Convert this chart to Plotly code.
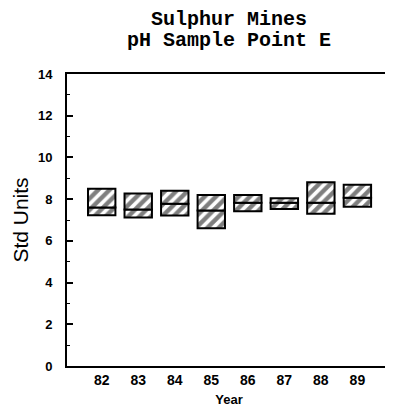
import plotly.graph_objects as go

years = [82, 83, 84, 85, 86, 87, 88, 89]
year_labels = ["82", "83", "84", "85", "86", "87", "88", "89"]
ph_low = [7.23, 7.12, 7.22, 6.60, 7.42, 7.53, 7.30, 7.63]
ph_median = [7.60, 7.50, 7.78, 7.45, 7.83, 7.83, 7.83, 8.07]
ph_high = [8.50, 8.27, 8.40, 8.20, 8.20, 8.04, 8.81, 8.69]

y_ticks = [0, 2, 4, 6, 8, 10, 12, 14]

lower_h = [m - l for m, l in zip(ph_median, ph_low)]
upper_h = [h - m for h, m in zip(ph_high, ph_median)]

pattern = dict(shape="/", fgcolor="black", bgcolor="white", size=8, solidity=0.55)

fig = go.Figure()
fig.add_trace(go.Bar(
    x=years, y=lower_h, base=ph_low, width=0.75,
    marker=dict(color="white", line=dict(color="black", width=2), pattern=pattern),
    showlegend=False, hoverinfo="skip",
))
fig.add_trace(go.Bar(
    x=years, y=upper_h, base=ph_median, width=0.75,
    marker=dict(color="white", line=dict(color="black", width=2), pattern=pattern),
    showlegend=False, hoverinfo="skip",
))

title_font = dict(family="Liberation Mono", size=20, color="black", weight="bold")
fig.add_annotation(text="Sulphur Mines", xref="paper", yref="paper", x=0.5, y=1.0,
                   xanchor="center", yanchor="bottom", yshift=41, showarrow=False,
                   font=title_font)
fig.add_annotation(text="pH Sample Point E", xref="paper", yref="paper", x=0.5, y=1.0,
                   xanchor="center", yanchor="bottom", yshift=20, showarrow=False,
                   font=title_font)

# right frame edge (faint dotted)
fig.add_shape(type="line", xref="paper", yref="paper", x0=1, x1=1, y0=0, y1=1,
              line=dict(color="#999999", width=1, dash="dot"))

# page body has an 8px margin, so the figure is sized/offset to compensate
fig.update_layout(
    width=385, height=399,
    margin=dict(l=59, r=2, t=66, b=41),
    paper_bgcolor="white", plot_bgcolor="white",
    barmode="overlay",
    font=dict(family="Liberation Sans", color="black"),
)
fig.update_xaxes(
    automargin=False,
    range=[81.05, 89.92],
    tickvals=years, ticktext=year_labels,
    tickfont=dict(family="Liberation Sans", size=14, color="black", weight="bold"),
    showline=True, linecolor="black", linewidth=2, mirror=True,
    showgrid=False, zeroline=False, ticks="",
    title=dict(text="Year", font=dict(family="Liberation Sans", size=13, weight="bold"), standoff=15),
)
fig.update_yaxes(
    automargin=False,
    range=[0, 14],
    tickvals=y_ticks,
    tickfont=dict(family="Liberation Sans", size=13, color="black", weight="bold"),
    showline=True, linecolor="black", linewidth=2,
    showgrid=False, zeroline=False,
    ticks="inside", ticklen=6, tickwidth=1.5, tickcolor="black",
    minor=dict(dtick=1, ticks="inside", ticklen=3, tickwidth=1, tickcolor="black"),
    ticklabelstandoff=10,
    title=dict(text="Std Units", font=dict(family="Liberation Sans", size=21), standoff=4),
)

fig.write_html("out.html")
